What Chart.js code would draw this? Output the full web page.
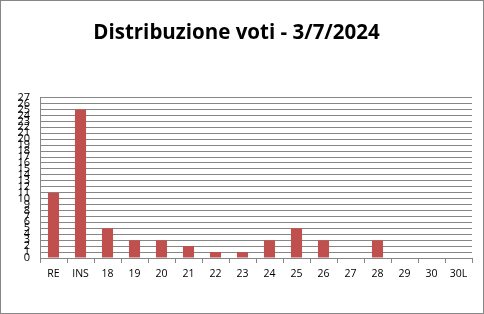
<!DOCTYPE html>
<html>
<head>
<meta charset="utf-8">
<script src="https://cdn.jsdelivr.net/npm/chart.js@4/dist/chart.umd.min.js"></script>
<style>
  body { margin: 0; background: #fff; }
  #box { width: 484px; height: 314px; box-sizing: border-box; border: 1px solid #868686; }
</style>
</head>
<body>
<div id="box"><canvas id="chart" width="482" height="312"></canvas></div>
<script>
// categories and votes
const grades = ["RE", "INS", "18", "19", "20", "21", "22", "23", "24", "25", "26", "27", "28", "29", "30", "30L"];
const votes = [11, 25, 5, 3, 3, 2, 1, 1, 3, 5, 3, 0, 3, 0, 0, 0];
const yMax = 27;

const ctx = document.querySelector("#chart").getContext("2d");

new Chart(ctx, {
  type: "bar",
  data: {
    labels: grades,
    datasets: [
      {
        data: votes,
        backgroundColor: "#C0504D",
        barPercentage: 0.41,
        categoryPercentage: 1,
      },
    ],
  },
  options: {
    responsive: false,
    animation: false,
    layout: { padding: { left: 0, right: 11, top: 0, bottom: 0 } },
    plugins: {
      legend: { display: false },
      tooltip: { enabled: false },
      title: {
        display: true,
        text: "Distribuzione voti - 3/7/2024",
        color: "#000",
        font: { family: "Open Sans", size: 20.5, weight: "bold" },
        padding: { top: 20, bottom: 52 },
      },
    },
    scales: {
      x: {
        grid: {
          offset: true,
          drawOnChartArea: false,
          drawTicks: true,
          tickLength: 5,
          color: "#868686",
        },
        border: { color: "#868686" },
        ticks: {
          color: "#000",
          padding: 5,
          autoSkip: false,
          maxRotation: 0,
          font: { family: "Open Sans", size: 10.5 },
        },
        afterFit: (scale) => {
          scale.height = 55;
        },
      },
      y: {
        min: 0,
        max: yMax,
        grid: { color: "#868686", drawTicks: false },
        border: { color: "#868686" },
        ticks: {
          stepSize: 1,
          autoSkip: false,
          color: "#000",
          padding: 10,
          font: { family: "Open Sans", size: 11 },
        },
        afterFit: (scale) => {
          scale.width = 39;
        },
      },
    },
  },
});
</script>
</body>
</html>
